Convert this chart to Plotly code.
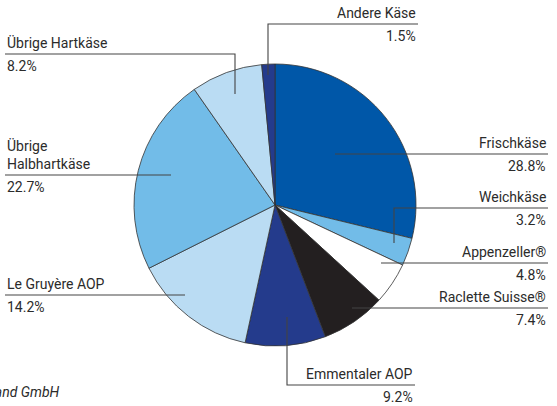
import plotly.graph_objects as go

# ---- data ----
categories = ["Frischkäse", "Weichkäse", "Appenzeller®", "Raclette Suisse®", "Emmentaler AOP",
              "Le Gruyère AOP", "Übrige<br>Halbhartkäse", "Übrige Hartkäse", "Andere Käse"]
shares = [28.8, 3.2, 4.8, 7.4, 9.2, 14.2, 22.7, 8.2, 1.5]
pct_labels = ["28.8%", "3.2%", "4.8%", "7.4%", "9.2%", "14.2%", "22.7%", "8.2%", "1.5%"]
colors = ["#0057a8", "#72bce8", "#ffffff", "#231f20", "#243b8c",
          "#badcf3", "#72bce8", "#badcf3", "#243b8c"]

# ---- layout of callouts (pixel positions, y downward) ----
# dot (x,y), elbow y (or None), line end x, text side
callouts = [
    (335, 154, None, 548, "right"),
    (394, 243, 208, 548, "right"),
    (381, 263, None, 548, "right"),
    (352, 308, None, 548, "right"),
    (287, 317, 385, 415, "right"),
    (185, 295, None, 5, "left"),
    (171, 175, None, 5, "left"),
    (235, 94, 54, 5, "left"),
    (268, 75, 24, 418, "right"),
]

W, H = 557, 406
cx, cy, r = 275, 205, 141
font = "Roboto, Liberation Sans, sans-serif"
txtcol = "#2b2b2b"
linecol = "#444444"

fig = go.Figure()
fig.add_trace(go.Pie(
    values=shares, labels=categories, sort=False, direction="clockwise", rotation=0,
    marker=dict(colors=colors, line=dict(color="#333333", width=0.8)),
    textinfo="none", hoverinfo="label+percent", showlegend=False,
    domain=dict(x=[(cx - r) / W, (cx + r) / W], y=[(H - cy - r) / H, (H - cy + r) / H]),
))

shapes = []
annotations = []
for cat, pct, (dx, dy, ey, lx, side) in zip(categories, pct_labels, callouts):
    ly = ey if ey is not None else dy
    if ey is not None:
        path = f"M{dx},{dy} L{dx},{ey} L{lx},{ey}"
    else:
        path = f"M{dx},{dy} L{lx},{dy}"
    shapes.append(dict(type="path", path=path, xref="x", yref="y",
                       line=dict(color=linecol, width=1.1), layer="above"))
    anchor = "right" if side == "right" else "left"
    annotations.append(dict(x=lx, y=ly - 1, xref="x", yref="y", text=cat, showarrow=False,
                            xanchor=anchor, yanchor="bottom", align=anchor,
                            font=dict(family=font, size=14, color=txtcol)))
    annotations.append(dict(x=lx, y=ly + 2, xref="x", yref="y", text=pct, showarrow=False,
                            xanchor=anchor, yanchor="top", align=anchor,
                            font=dict(family=font, size=14, color=txtcol)))

fig.add_trace(go.Scatter(
    x=[c[0] for c in callouts], y=[c[1] for c in callouts], mode="markers",
    marker=dict(symbol="square", size=4, color="#231f20"), hoverinfo="skip", showlegend=False,
))

annotations.append(dict(x=62, y=392, xref="x", yref="y",
                        text="<i>Quelle: Switzerland Cheese Marketing Deutschland GmbH</i>",
                        showarrow=False, xanchor="right", yanchor="middle",
                        font=dict(family=font, size=14, color=txtcol)))

fig.update_layout(
    width=W, height=H, margin=dict(l=0, r=0, t=0, b=0),
    paper_bgcolor="white", plot_bgcolor="rgba(0,0,0,0)",
    xaxis=dict(range=[0, W], visible=False, fixedrange=True),
    yaxis=dict(range=[H, 0], visible=False, fixedrange=True),
    shapes=shapes, annotations=annotations,
)

fig.write_html("out.html", config={"displayModeBar": False},
               post_script="document.body.style.margin='0';document.body.style.padding='0';")
